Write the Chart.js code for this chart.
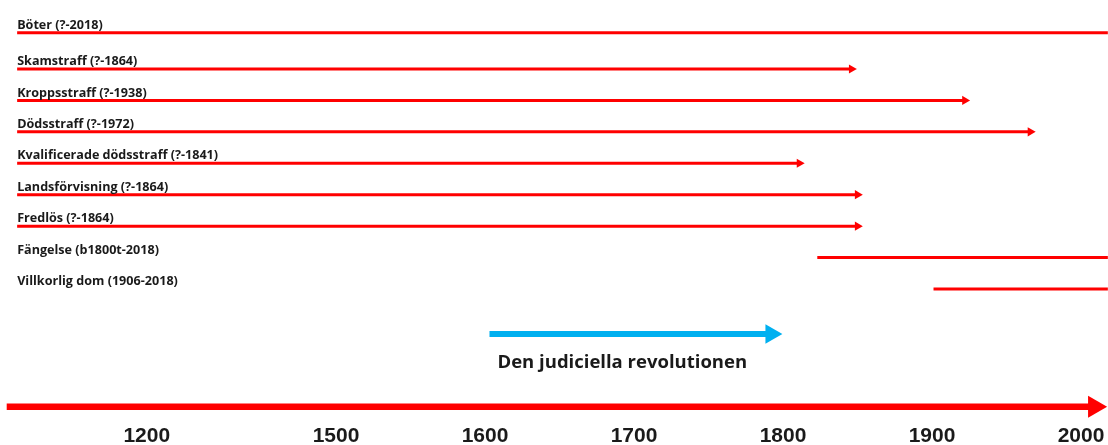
<!DOCTYPE html>
<html>
<head>
<meta charset="utf-8">
<script src="https://cdn.jsdelivr.net/npm/chart.js@4"></script>
<style>
  html, body { margin: 0; padding: 0; background: #ffffff; }
  #wrap { width: 1108px; height: 445px; position: relative; }
</style>
</head>
<body>
<div id="wrap"><canvas id="c"></canvas></div>
<script>
// ---- data ----
const categories = [
  'Böter (?-2018)',
  'Skamstraff (?-1864)',
  'Kroppsstraff (?-1938)',
  'Dödsstraff (?-1972)',
  'Kvalificerade dödsstraff (?-1841)',
  'Landsförvisning (?-1864)',
  'Fredlös (?-1864)',
  'Fängelse (b1800t-2018)',
  'Villkorlig dom (1906-2018)'
];
const lanes      = [-0.15, 1, 2, 3, 4, 5, 6, 7, 8];
const startYears = [1286, 1286, 1286, 1286, 1286, 1286, 1286, 1823, 1901];
const endYears   = [2018, 1846, 1922, 1966, 1811, 1850, 1850, 2018, 2018];
const hasArrow   = [false, true, true, true, true, true, true, false, false];

const revolutionLabel = 'Den judiciella revolutionen';
const revolutionLane  = 9.43;
const revolutionYears = [1603, 1792];

const axisLane  = 11.75;
const axisYears = [1279, 2009];

const tickValues = [1373, 1500, 1600, 1700, 1800, 1900, 2000];
const tickLabels = ['1200', '1500', '1600', '1700', '1800', '1900', '2000'];

// ---- build datasets ----
const RED = '#ff0000';
const BLUE = '#00b0f0';
const datasets = categories.map((name, i) => ({
  label: name,
  rowLabel: true,
  data: [{ x: startYears[i], y: lanes[i] }, { x: endYears[i], y: lanes[i] }],
  borderColor: RED,
  borderWidth: 3,
  pointRadius: [0, hasArrow[i] ? 5.3 : 0],
  pointStyle: 'triangle',
  pointRotation: 90,
  pointBackgroundColor: RED,
  pointBorderWidth: 0,
  clip: false
}));
datasets.push({
  label: revolutionLabel,
  centerLabel: true,
  data: [{ x: revolutionYears[0], y: revolutionLane }, { x: revolutionYears[1], y: revolutionLane }],
  borderColor: BLUE,
  borderWidth: 6,
  pointRadius: [0, 11.3],
  pointStyle: 'triangle',
  pointRotation: 90,
  pointBackgroundColor: BLUE,
  pointBorderWidth: 0,
  clip: false
});
datasets.push({
  label: 'axis',
  data: [{ x: axisYears[0], y: axisLane }, { x: axisYears[1], y: axisLane }],
  borderColor: RED,
  borderWidth: 6.5,
  pointRadius: [0, 12.7],
  pointStyle: 'triangle',
  pointRotation: 90,
  pointBackgroundColor: RED,
  pointBorderWidth: 0,
  clip: false
});

const labelPlugin = {
  id: 'rowLabels',
  afterDatasetsDraw(chart) {
    const ctx = chart.ctx;
    const xs = chart.scales.x, ys = chart.scales.y;
    ctx.save();
    ctx.fillStyle = '#1a1a1a';
    chart.data.datasets.forEach(ds => {
      if (ds.rowLabel) {
        ctx.font = 'bold 12.6px "Open Sans", Lato, sans-serif';
        ctx.textAlign = 'left';
        ctx.textBaseline = 'middle';
        ctx.fillText(ds.label, xs.getPixelForValue(startYears[0]), ys.getPixelForValue(ds.data[0].y) - 7.5);
      } else if (ds.centerLabel) {
        ctx.font = 'bold 18.5px "Open Sans", Lato, sans-serif';
        ctx.textAlign = 'center';
        ctx.textBaseline = 'middle';
        const cx = (xs.getPixelForValue(ds.data[0].x) + xs.getPixelForValue(ds.data[1].x)) / 2 - 8;
        ctx.fillText(ds.label, cx, ys.getPixelForValue(ds.data[0].y) + 29);
      }
    });
    ctx.restore();
  }
};

new Chart(document.getElementById('c'), {
  type: 'line',
  data: { datasets },
  plugins: [labelPlugin],
  options: {
    responsive: true,
    maintainAspectRatio: false,
    animation: false,
    events: [],
    layout: { padding: 0, autoPadding: false },
    plugins: { legend: { display: false }, tooltip: { enabled: false } },
    scales: {
      x: {
        type: 'linear',
        min: 1274.5,
        max: 2018.1,
        position: 'bottom',
        grid: { display: false, drawTicks: false },
        border: { display: false },
        afterBuildTicks(axis) { axis.ticks = tickValues.map(v => ({ value: v })); },
        afterFit(axis) { axis.height = 21; },
        ticks: {
          autoSkip: false,
          maxRotation: 0,
          padding: 2,
          color: '#1a1a1a',
          font: { family: '"Liberation Sans", Arial, sans-serif', size: 21, weight: 'bold', lineHeight: 1 },
          callback: (v, i) => tickLabels[i]
        }
      },
      y: {
        type: 'linear',
        reverse: true,
        min: -1.195,
        max: 12.295,
        display: false
      }
    }
  }
});
</script>
</body>
</html>
